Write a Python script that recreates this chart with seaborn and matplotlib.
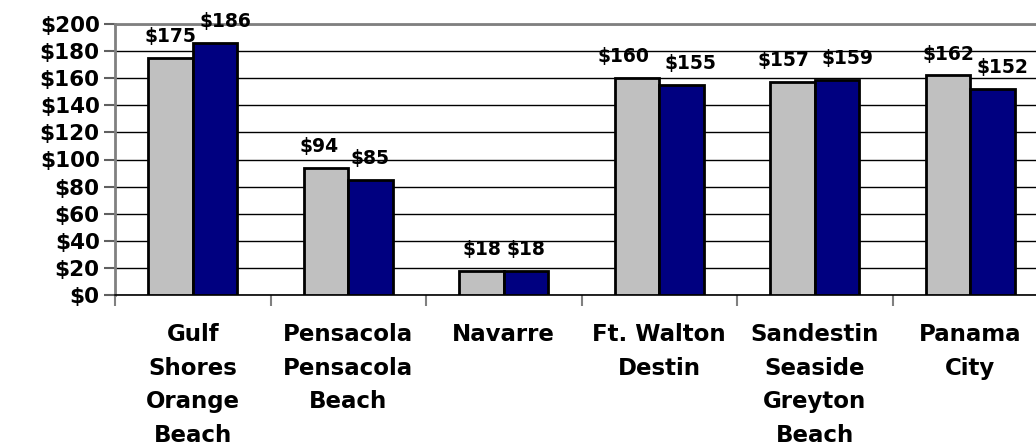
import numpy as np
import pandas as pd
import matplotlib
matplotlib.use("Agg")
import matplotlib.pyplot as plt
import seaborn as sns

# data
areas = ["Gulf\nShores\nOrange\nBeach", "Pensacola\nPensacola\nBeach", "Navarre",
         "Ft. Walton\nDestin", "Sandestin\nSeaside\nGreyton\nBeach", "Panama\nCity"]
series_names = ["Previous", "Current"]
prev_rate = [175, 94, 18, 160, 157, 162]
curr_rate = [186, 85, 18, 155, 159, 152]
y_ticks = list(range(0, 201, 20))

sns.set_theme(style="white")
plt.rcParams["font.family"] = ["DejaVu Sans"]
plt.rcParams["font.weight"] = "bold"

df = pd.DataFrame({
    "area": areas * 2,
    "series": [series_names[0]] * len(areas) + [series_names[1]] * len(areas),
    "rate": prev_rate + curr_rate,
})

fig = plt.figure(figsize=(10.36, 4.46), dpi=100)
ax = fig.add_axes([115 / 1036, 151 / 446, 933 / 1036, 271 / 446])

sns.barplot(data=df, x="area", y="rate", hue="series", order=areas,
            hue_order=series_names, palette=["#c0c0c0", "#000080"],
            saturation=1, edgecolor="black", linewidth=2, width=0.572, gap=0,
            legend=False, ax=ax, zorder=3)

ax.set_ylim(0, 200)
ax.set_xlim(-0.5, len(areas) - 0.5)
ax.set_yticks(y_ticks)
ax.set_yticklabels([f"${v}" for v in y_ticks], fontsize=15.5, fontweight="bold")
ax.yaxis.grid(True, color="black", linewidth=1, zorder=0)
ax.set_axisbelow(True)
ax.set_xlabel("")
ax.set_ylabel("")

# category labels at centers, tick marks at group boundaries
ax.set_xticks(range(len(areas)))
ax.set_xticklabels(areas, fontsize=16.5, fontweight="bold", linespacing=1.6)
ax.set_xticks(np.arange(-0.5, len(areas), 1), minor=True)
ax.tick_params(left=True, bottom=True)
ax.tick_params(axis="x", which="minor", bottom=True, length=8, width=1.5,
               color="#808080", direction="out")
ax.tick_params(axis="x", which="major", length=0, pad=20, labelcolor="black")
ax.tick_params(axis="y", length=8, width=1.5, color="#606060", direction="out",
               pad=3, labelcolor="black")

for s in ["left", "top"]:
    ax.spines[s].set_color("#808080")
    ax.spines[s].set_linewidth(2)
ax.spines["bottom"].set_color("black")
ax.spines["bottom"].set_linewidth(1.2)
ax.spines["right"].set_visible(False)

# value labels (nudged sideways like the original where they would collide)
x_nudges = [[0, -7, 0, -14, -9, 0], [10, 0, 0, 9, 11, 10]]
for k, cont in enumerate(ax.containers):
    for i, bar in enumerate(cont):
        h = bar.get_height()
        ax.annotate(f"${h:.0f}", (bar.get_x() + bar.get_width() / 2, h),
                    xytext=(x_nudges[k][i] * 0.72, 11.5), textcoords="offset points",
                    ha="center", va="baseline", fontsize=13.5, fontweight="bold",
                    color="black", annotation_clip=False)

fig.savefig("out.png", dpi=100)
